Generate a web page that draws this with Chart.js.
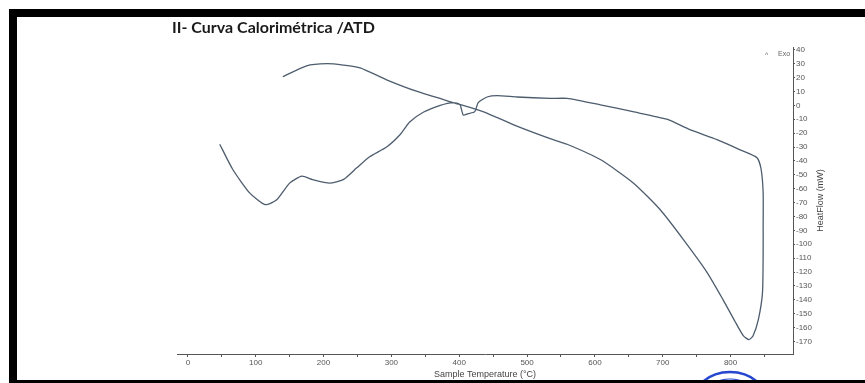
<!DOCTYPE html>
<html>
<head>
<meta charset="utf-8">
<script src="https://cdn.jsdelivr.net/npm/chart.js@4"></script>
<style>
  html, body { margin: 0; padding: 0; background: #fff; }
  #wrap { position: relative; width: 865px; height: 383px; overflow: hidden; }
  canvas { position: absolute; left: 0; top: 0; }
  .band { position: absolute; background: #000; }
</style>
</head>
<body>
<div id="wrap">
  <canvas id="atdChart" width="865" height="383"></canvas>
  <div class="band" style="left:9px;top:9px;width:856px;height:8px"></div>
  <div class="band" style="left:9px;top:9px;width:8px;height:374px"></div>
  <div class="band" style="left:9px;top:380px;width:856px;height:3px"></div>
</div>
<script>
// heating run (left to right), then the cooling run back
const heatTemp = [47, 66, 91, 114, 131, 150, 168, 184, 209, 229, 249, 268, 293, 313, 327, 347, 372, 391, 401, 406, 413, 423, 428, 441, 456, 485, 534, 559, 608, 656, 706, 740, 780, 814, 839, 845, 848, 848, 848, 847, 841, 833, 827];
const heatFlow = [-28, -46, -63, -71.5, -68, -56, -51, -53.5, -56, -53.5, -45, -37, -30, -21, -12, -5, 0, 2, 0.5, -7, -6, -4.5, 2, 6, 7, 6, 5, 5, 0.4, -4.6, -10, -17.5, -24.7, -32, -37.7, -46, -63, -87, -106, -135, -154, -166, -168.6];
const coolTemp = [819, 807, 789, 765, 731, 696, 657, 608, 559, 534, 485, 435, 391, 338, 293, 254, 229, 205, 175, 140];
const coolFlow = [-166, -156, -140, -120, -97, -75, -56, -39, -28, -24, -15, -4.5, 2, 10, 18.4, 27, 29, 30, 28.5, 20.6];

const titleText = 'II- Curva Calorimétrica /ATD';
const xTitle = 'Sample Temperature (°C)';
const yTitle = 'HeatFlow (mW)';

const curve = heatTemp.map((t, i) => ({ x: t, y: heatFlow[i] }))
  .concat(coolTemp.map((t, i) => ({ x: t, y: coolFlow[i] })));

const axisGrey = '#555';
const lineColor = '#4d5d6e';

// title, Exo marker, rotated y title and the stamp edge
const extras = {
  id: 'extras',
  afterDraw(chart) {
    const ctx = chart.ctx;
    const area = chart.chartArea;
    ctx.save();
    ctx.fillStyle = '#1a1a1a';
    ctx.font = 'bold 16px Lato';
    ctx.textBaseline = 'alphabetic';
    ctx.fillText(titleText, 172, 33);

    ctx.fillStyle = '#666';
    ctx.font = '7px "Liberation Sans"';
    ctx.fillText('^', 765, 57);
    ctx.fillText('Exo', 778, 56);

    ctx.translate(821, (area.top + area.bottom) / 2);
    ctx.rotate(-Math.PI / 2);
    ctx.textAlign = 'center';
    ctx.textBaseline = 'middle';
    ctx.font = '9px "Liberation Sans"';
    ctx.fillStyle = '#444';
    ctx.fillText(yTitle, 0, 0);
    ctx.restore();

    ctx.save();
    ctx.strokeStyle = '#2547d0';
    ctx.lineWidth = 2.5;
    ctx.beginPath();
    ctx.ellipse(730, 404, 38, 32, 0, Math.PI, 2 * Math.PI);
    ctx.stroke();
    ctx.lineWidth = 1.2;
    ctx.beginPath();
    ctx.ellipse(730, 404, 31, 25, 0, Math.PI, 2 * Math.PI);
    ctx.stroke();
    ctx.restore();
  }
};

new Chart(document.getElementById('atdChart'), {
  type: 'scatter',
  data: {
    datasets: [{
      data: curve,
      showLine: true,
      borderColor: lineColor,
      borderWidth: 1.3,
      pointRadius: 0,
      tension: 0.2
    }]
  },
  options: {
    responsive: false,
    animation: false,
    layout: { padding: { left: 177, top: 47, right: 0, bottom: 0 } },
    plugins: {
      legend: { display: false },
      tooltip: { enabled: false }
    },
    scales: {
      x: {
        type: 'linear',
        min: -16,
        max: 892,
        afterFit(scale) { scale.height = 29; },
        grid: { drawOnChartArea: false, color: axisGrey, tickLength: 3 },
        border: { color: axisGrey, width: 1 },
        ticks: {
          stepSize: 50,
          includeBounds: false,
          maxRotation: 0,
          autoSkip: false,
          padding: 1,
          color: axisGrey,
          font: { family: 'Liberation Sans', size: 8 },
          callback: v => (v % 100 === 0 ? v : '')
        },
        title: {
          display: true,
          text: xTitle,
          color: '#444',
          padding: { top: 0, bottom: 3 },
          font: { family: 'Liberation Sans', size: 9 }
        }
      },
      y: {
        type: 'linear',
        position: 'right',
        min: -179,
        max: 42,
        afterFit(scale) { scale.width = 72; },
        grid: { drawOnChartArea: false, color: axisGrey, tickLength: 2 },
        border: { color: axisGrey, width: 1 },
        ticks: {
          stepSize: 10,
          includeBounds: false,
          autoSkip: false,
          padding: 1,
          color: axisGrey,
          font: { family: 'Liberation Sans', size: 8 }
        }
      }
    }
  },
  plugins: [extras]
});
</script>
</body>
</html>
